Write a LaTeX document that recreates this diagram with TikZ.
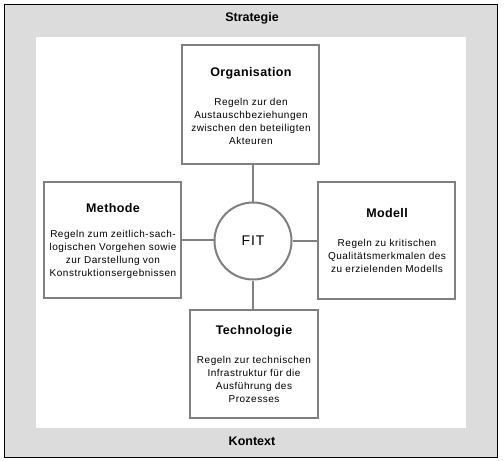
\documentclass[tikz,border=0pt]{standalone}
\usepackage{fontspec}
\setmainfont{Liberation Sans}
\definecolor{boxgray}{HTML}{808080}
\definecolor{bggray}{HTML}{DCDCDC}
\begin{document}
\begin{tikzpicture}[x=1pt,y=-1pt,
  box/.style={draw=boxgray,line width=2pt,fill=white,inner sep=0pt},
  ttl/.style={font=\bfseries\fontsize{12.5}{14}\selectfont\addfontfeature{LetterSpace=3}},
  body/.style={font=\fontsize{10}{13}\selectfont\addfontfeature{LetterSpace=5},align=center,inner sep=0pt},
  band/.style={font=\bfseries\fontsize{12.5}{14}\selectfont},
  link/.style={draw=boxgray,line width=2pt}]
\useasboundingbox (0,0) rectangle (504,461);
\draw[fill=bggray,draw=black,line width=1pt] (4,4) rectangle (497,457);
\fill[white] (36,37) rectangle (466,428);
\node[band] (strat) at (252,18) {Strategie};
\node[band] (kont) at (252,441) {Kontext};
% boxes
\node[box,minimum width=137pt,minimum height=119pt] (org) at (250.5,104.5) {};
\node[box,minimum width=137pt,minimum height=116pt] (meth) at (112.5,240) {};
\node[box,minimum width=137pt,minimum height=117pt] (mod) at (386,240.5) {};
\node[box,minimum width=128pt,minimum height=108pt] (tech) at (254,364) {};
\node[draw=boxgray,line width=2pt,fill=white,circle,minimum size=77pt,inner sep=0pt,
      font=\fontsize{14}{16}\selectfont\addfontfeature{LetterSpace=6}] (fit) at (253,241) {FIT};
% connectors
\draw[link] (org.south -| fit.north) -- (fit.north);
\draw[link] (fit.south) -- (tech.north -| fit.south);
\draw[link] (meth.east) -- (fit.west |- meth.east);
\draw[link] (fit.east |- mod.west) -- (mod.west);
% texts
\node[ttl] (orgt) at (251,73) {Organisation};
\node[body] (orgb) at (251,121.5) {Regeln zur den\\Austauschbeziehungen\\zwischen den beteiligten\\Akteuren};
\node[ttl] (metht) at (113,208) {Methode};
\node[body] (methb) at (113,254.5) {Regeln zum zeitlich-sach-\\logischen Vorgehen sowie\\zur Darstellung von\\Konstruktionsergebnissen};
\node[ttl] (modt) at (387,213) {Modell};
\node[body] (modb) at (387,256) {Regeln zu kritischen\\Qualitätsmerkmalen des\\zu erzielenden Modells};
\node[ttl] (techt) at (254,331) {Technologie};
\node[body] (techb) at (254,379) {Regeln zur technischen\\Infrastruktur für die\\Ausführung des\\Prozesses};
\end{tikzpicture}
\end{document}
